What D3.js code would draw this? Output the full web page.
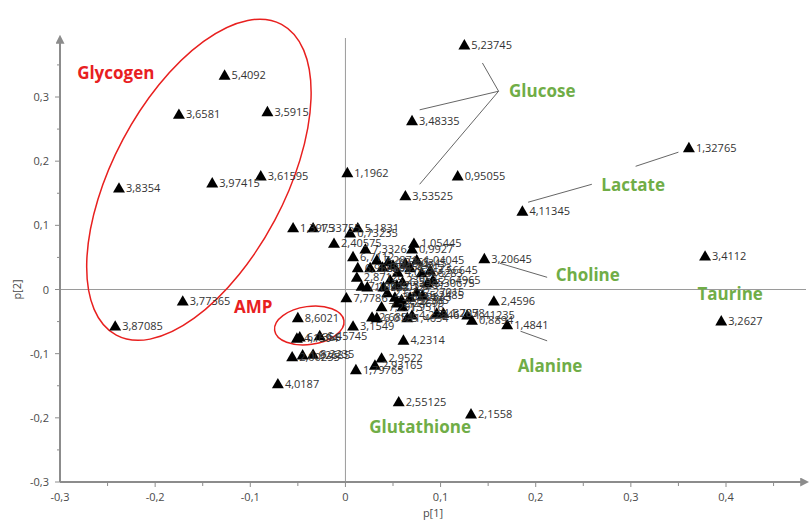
<!DOCTYPE html>
<html>
<head>
<meta charset="utf-8">
<script src="https://cdn.jsdelivr.net/npm/d3@7/dist/d3.min.js"></script>
<style>
  html, body { margin: 0; padding: 0; background: #fff; }
  svg { display: block; font-family: "Open Sans", "DejaVu Sans", sans-serif; }
</style>
</head>
<body>
<svg id="chart" width="811" height="522"></svg>
<script>
// Loading plot: variable labels (ppm bins) with their p[1] / p[2] loadings
const labels = [
  "5,4092","3,6581","3,5915","3,8354","3,97415","3,61595","3,77365","3,87085",
  "1,1962","5,23745","3,48335","3,53525","0,95055","4,11345","1,32765","3,4112","3,2627",
  "3,20645","2,4596","1,4841","0,8894","1,41235","1,7078",
  "2,55125","2,1558","4,2314","2,9522","2,93165","1,79765","3,1549","7,7786",
  "8,6021","4,1594","6,1356","6,45745","2,00255","1,92685","8,2235","4,0187",
  "1,3975","1,33755","5,1831","0,73235","2,40575","7,3326","1,05445","0,9927",
  "6,7112","6,9868","2,8712","7,1004","1,8722","3,2206","7,2871","6,8451","4,0765",
  "3,7745","4,0565","3,0345","4,5123","1,04045","4,6283","3,56645","2,64965","3,30675",
  "5,2395","2,3426","6,5585","5,4012","2,6315","3,0514","2,52385","1,2335","2,27015",
  "5,2485","2,24699","1,9516","7,2915","2,6854","6,0125","1,4634","4,22846","1,3285"
];
const p1 = [
  -0.127,-0.175,-0.082,-0.238,-0.140,-0.089,-0.171,-0.242,
  0.002,0.125,0.070,0.063,0.118,0.186,0.361,0.378,0.395,
  0.146,0.156,0.170,0.133,0.128,0.103,
  0.056,0.132,0.061,0.038,0.031,0.011,0.008,0.001,
  -0.050,-0.051,-0.048,-0.027,-0.056,-0.045,-0.034,-0.071,
  -0.055,-0.034,0.013,0.005,-0.012,0.021,0.072,0.070,
  0.008,0.013,0.012,0.017,0.023,0.026,0.033,0.039,0.045,
  0.050,0.055,0.063,0.068,0.075,0.080,0.089,0.092,0.086,
  0.047,0.054,0.060,0.040,0.044,0.052,0.059,0.068,0.075,
  0.081,0.054,0.060,0.038,0.028,0.033,0.065,0.070,0.096
];
const p2 = [
  0.334,0.273,0.277,0.158,0.166,0.177,-0.018,-0.057,
  0.182,0.381,0.263,0.146,0.177,0.122,0.221,0.052,-0.049,
  0.048,-0.018,-0.055,-0.048,-0.040,-0.037,
  -0.175,-0.194,-0.079,-0.107,-0.118,-0.125,-0.057,-0.013,
  -0.044,-0.076,-0.074,-0.072,-0.105,-0.102,-0.101,-0.147,
  0.096,0.096,0.096,0.088,0.072,0.063,0.072,0.063,
  0.051,0.034,0.019,0.005,0.004,0.034,0.046,0.035,0.043,
  0.038,0.027,0.041,0.034,0.046,0.026,0.030,0.015,0.010,
  0.015,0.007,0.012,0.004,-0.005,-0.012,-0.016,-0.012,-0.004,
  -0.009,-0.021,-0.027,-0.027,-0.043,-0.044,-0.044,-0.040,-0.037
];

// Axis tick values and their printed labels (comma decimals)
const xTicks = [-0.3,-0.2,-0.1,0,0.1,0.2,0.3,0.4];
const xTickLabels = ["-0,3","-0,2","-0,1","0","0,1","0,2","0,3","0,4"];
const yTicks = [-0.3,-0.2,-0.1,0,0.1,0.2,0.3];
const yTickLabels = ["-0,3","-0,2","-0,1","0","0,1","0,2","0,3"];

// Metabolite annotations (anchor at text left / vertical middle, data units)
const metabolites = ["Glycogen","AMP","Glucose","Lactate","Choline","Taurine","Alanine","Glutathione"];
const metaX = [-0.282,-0.117,0.172,0.269,0.221,0.370,0.181,0.025];
const metaY = [0.337,-0.027,0.309,0.163,0.023,-0.007,-0.119,-0.214];
const metaGroup = ["red","red","green","green","green","green","green","green"];

// Leader lines from annotations to their peaks: [x1,y1,x2,y2]
const leaders = [
  [0.161,0.309,0.144,0.353],
  [0.161,0.309,0.078,0.280],
  [0.161,0.309,0.078,0.164],
  [0.350,0.214,0.305,0.192],
  [0.259,0.164,0.192,0.136],
  [0.162,0.041,0.212,0.019],
  [0.184,-0.065,0.212,-0.080]
];

const svg = d3.select("#chart");
const x = d3.scaleLinear().domain([-0.3, 0.4]).range([60, 726]);
const y = d3.scaleLinear().domain([-0.3, 0.3]).range([482, 97]);
const xMax = x.invert(806), yMax = y.invert(38);

const axisColor = "#8c8c8c";
const textColor = "#4a4a4a";

// Arrow heads at the ends of the axes
svg.append("defs").append("marker")
  .attr("id", "arrow").attr("viewBox", "0 0 10 10")
  .attr("refX", 2).attr("refY", 5)
  .attr("markerWidth", 9).attr("markerHeight", 9)
  .attr("markerUnits", "userSpaceOnUse")
  .attr("orient", "auto")
  .append("path").attr("d", "M0,0 L10,5 L0,10 Z").attr("fill", axisColor);

// Zero reference lines
svg.append("line").attr("x1", x(-0.3)).attr("x2", x(xMax)).attr("y1", y(0)).attr("y2", y(0))
  .attr("stroke", "#9a9a9a").attr("stroke-width", 1);
svg.append("line").attr("x1", x(0)).attr("x2", x(0)).attr("y1", y(-0.3)).attr("y2", y(yMax))
  .attr("stroke", "#9a9a9a").attr("stroke-width", 1);

// Axis lines with arrows
svg.append("line").attr("x1", x(-0.3)).attr("x2", x(xMax) - 4).attr("y1", y(-0.3)).attr("y2", y(-0.3))
  .attr("stroke", axisColor).attr("stroke-width", 2).attr("marker-end", "url(#arrow)");
svg.append("line").attr("x1", x(-0.3)).attr("x2", x(-0.3)).attr("y1", y(-0.3)).attr("y2", y(yMax) + 4)
  .attr("stroke", axisColor).attr("stroke-width", 2).attr("marker-end", "url(#arrow)");

// Minor and major ticks
const isMajor = d => Math.abs(Math.round(d * 10) - d * 10) < 1e-6;
const xMinor = d3.range(-0.25, 0.46, 0.05).map(v => +v.toFixed(2));
svg.append("g").selectAll("line").data(xMinor).join("line")
  .attr("x1", d => x(d)).attr("x2", d => x(d))
  .attr("y1", y(-0.3)).attr("y2", d => y(-0.3) + (isMajor(d) ? 5 : 4))
  .attr("stroke", axisColor).attr("stroke-width", 1);
const yMinor = d3.range(-0.25, 0.36, 0.05).map(v => +v.toFixed(2));
svg.append("g").selectAll("line").data(yMinor).join("line")
  .attr("y1", d => y(d)).attr("y2", d => y(d))
  .attr("x1", x(-0.3)).attr("x2", d => x(-0.3) - (isMajor(d) ? 5 : 3))
  .attr("stroke", axisColor).attr("stroke-width", 1);
svg.append("line").attr("x1", x(-0.3) - 5).attr("x2", x(-0.3)).attr("y1", y(-0.3)).attr("y2", y(-0.3))
  .attr("stroke", axisColor).attr("stroke-width", 1);

// Tick labels
svg.append("g").selectAll("text").data(xTicks).join("text")
  .attr("x", d => x(d)).attr("y", y(-0.3) + 19)
  .attr("text-anchor", "middle").attr("font-size", 11).attr("fill", textColor)
  .text((d, i) => xTickLabels[i]);
svg.append("g").selectAll("text").data(yTicks).join("text")
  .attr("x", x(-0.3) - 11).attr("y", d => y(d) + 4)
  .attr("text-anchor", "end").attr("font-size", 11).attr("fill", textColor)
  .text((d, i) => yTickLabels[i]);

// Axis titles
svg.append("text").attr("x", 433).attr("y", 517).attr("text-anchor", "middle")
  .attr("font-size", 11).attr("fill", textColor).text("p[1]");
svg.append("text").attr("transform", `translate(21,${y(0)}) rotate(-90)`).attr("text-anchor", "middle")
  .attr("font-size", 11).attr("fill", textColor).text("p[2]");

// Highlight ellipses
const red = "#e8201f";
svg.append("ellipse")
  .attr("transform", `translate(${x(-0.154)},${y(0.171)}) rotate(-62)`)
  .attr("rx", 176).attr("ry", 86)
  .attr("fill", "none").attr("stroke", red).attr("stroke-width", 1.5);
svg.append("ellipse")
  .attr("transform", `translate(${x(-0.038)},${y(-0.056)}) rotate(-8)`)
  .attr("rx", 35).attr("ry", 19)
  .attr("fill", "none").attr("stroke", red).attr("stroke-width", 1.5);

// Leader lines
svg.append("g").selectAll("line").data(leaders).join("line")
  .attr("x1", d => x(d[0])).attr("y1", d => y(d[1]))
  .attr("x2", d => x(d[2])).attr("y2", d => y(d[3]))
  .attr("stroke", "#666").attr("stroke-width", 1);

// Points: triangle markers with their ppm label
const pts = labels.map((l, i) => ({ label: l, p1: p1[i], p2: p2[i] }));
const tri = d3.symbol().type(d3.symbolTriangle).size(62);
const g = svg.append("g");
g.selectAll("path").data(pts).join("path")
  .attr("d", tri)
  .attr("transform", d => `translate(${x(d.p1)},${y(d.p2) + 1})`)
  .attr("fill", "#000");
g.selectAll("text").data(pts).join("text")
  .attr("x", d => x(d.p1) + 7).attr("y", d => y(d.p2) + 4)
  .attr("font-size", 11).attr("fill", "#333")
  .text(d => d.label);

// Metabolite names
svg.append("g").selectAll("text").data(metabolites).join("text")
  .attr("x", (d, i) => x(metaX[i])).attr("y", (d, i) => y(metaY[i]) + 6)
  .attr("font-size", 17).attr("font-weight", "bold")
  .attr("fill", (d, i) => metaGroup[i] === "red" ? red : "#70ad47")
  .text(d => d);
</script>
</body>
</html>
